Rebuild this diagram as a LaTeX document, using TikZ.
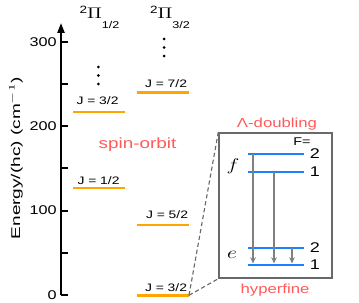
\documentclass[tikz,border=0pt]{standalone}
\usepackage{fontspec}
\setmainfont{Liberation Sans}
\usepackage{amsmath}
\usetikzlibrary{arrows.meta,positioning}

\definecolor{levelorange}{RGB}{255,165,0}
\definecolor{hfblue}{RGB}{25,130,255}
\definecolor{notered}{RGB}{255,90,90}
\definecolor{boxgray}{RGB}{105,105,105}

% text of the original is set a bit wide
\newcommand{\widetxt}[1]{\scalebox{1.28}[1]{#1}}
% state label 2Pi_Omega
\newcommand{\pistate}[1]{\widetxt{\raisebox{3.6pt}{\fontsize{7.5}{8}\selectfont 2}$\Pi$\raisebox{-7pt}{\fontsize{7}{8}\selectfont #1}}}

\begin{document}
\begin{tikzpicture}[x=0.025cm, y=-0.025cm,
		every node/.style={inner sep=0pt},
		level/.style={line width=2.1pt, levelorange},
		hfline/.style={line width=1.8pt, hfblue},
		decay/.style={gray, line width=0.9pt, -{Stealth[length=4.5pt, width=4pt]}},
		ticklbl/.style={anchor=east, font=\fontsize{9}{10}\selectfont},
		jlbl/.style={anchor=base, font=\fontsize{7.7}{9}\selectfont},
		statelbl/.style={anchor=base, font=\fontsize{11}{12}\selectfont},
		note/.style={notered, font=\fontsize{9.3}{11}\selectfont},
		flbl/.style={anchor=west, font=\fontsize{10}{11}\selectfont}]
		\useasboundingbox (0,0) rectangle (359,302);
		
		% Energy axis
		\draw[line width=1.4pt, -{Triangle[length=7pt, width=5pt]}] (61,295) -- (61,23);
		\foreach \E in {0,50,...,300}
			\draw[line width=1.4pt] (61,295-0.844*\E) -- (68,295-0.844*\E);
		\foreach \E in {0,100,200,300}
			\node[ticklbl] (tick\E) at (57,295-0.844*\E) {\widetxt{\E}};
		\node[rotate=90, font=\fontsize{9}{10}\selectfont] (ylabel) at (16,158)
			{\scalebox{1.5}[1]{Energy/(hc) (cm$^{-1}$)}};
		
		% States
		\node[statelbl] (pihalf) at (99.5,18.5) {\pistate{1/2}};
		\node[statelbl] (pithreehalf) at (170,18.5) {\pistate{3/2}};
		\foreach \y in {67,75.5,84}
			\fill (98.3,\y) circle (1.5);
		\foreach \y in {39,47.5,56}
			\fill (164,\y) circle (1.5);
		
		% Rotational levels
		\draw[level] (73,112) -- (125,112);
		\draw[level] (73,188) -- (125,188);
		\draw[level] (137,92.7) -- (189,92.7);
		\draw[level] (137,225) -- (189,225);
		\draw[level] (137,295.3) -- (189,295.3) coordinate (lowend);
		\node[jlbl] (ja) at (97.5,104) {\widetxt{J = 3/2}};
		\node[jlbl] (jb) at (98.5,184) {\widetxt{J = 1/2}};
		\node[jlbl] (jc) at (166,87) {\widetxt{J = 7/2}};
		\node[jlbl] (jd) at (167,218) {\widetxt{J = 5/2}};
		\node[jlbl] (je) at (166,291.7) {\widetxt{J = 3/2}};
		\node[note, anchor=base, font=\fontsize{10.5}{12}\selectfont] (spinorbit) at (137.5,148) {\widetxt{spin-orbit}};
		
		% Inset
		\node[draw=boxgray, line width=1pt, minimum width=2.825cm, minimum height=3.625cm] (inset) at (275.5,205.5) {};
		\draw[boxgray, line width=0.8pt, dash pattern=on 3pt off 2pt] (lowend) -- (inset.north west);
		\draw[boxgray, line width=0.8pt, dash pattern=on 3pt off 2pt] (lowend) -- (inset.south west);
		\node[note, anchor=base] (lambda) at (277,127) {\widetxt{Λ-doubling}};
		\node[note, anchor=base] (hyperfine) at (275,293) {\widetxt{hyperfine}};
		
		% Hyperfine levels
		\draw[hfline] (248,154) -- (304,154);
		\draw[hfline] (248,172) -- (304,172);
		\draw[hfline] (248,248) -- (304,248);
		\draw[hfline] (248,265) -- (304,265);
		\node[font=\fontsize{8}{9}\selectfont] (Flbl) at (302,142) {\widetxt{F=}};
		\node[flbl] (ftwo) at (309.5,154) {\widetxt{2}};
		\node[flbl] (fone) at (309.5,172) {\widetxt{1}};
		\node[flbl] (etwo) at (309.5,248) {\widetxt{2}};
		\node[flbl] (eone) at (309.5,265) {\widetxt{1}};
		\node[font=\fontsize{12.5}{14}\selectfont] (fpar) at (233,166) {\widetxt{$f$}};
		\node[font=\fontsize{12.5}{14}\selectfont] (epar) at (232,255) {\widetxt{$e$}};
		
		% Decays
		\coordinate (fa) at (253,154);
		\coordinate (fb) at (274,172);
		\coordinate (ec) at (292,248);
		\draw[decay] (fa) -- (253,263.5);
		\draw[decay] (fb) -- (274,263.5);
		\draw[decay] (ec) -- (292,263.5);
	\end{tikzpicture}
\end{document}
